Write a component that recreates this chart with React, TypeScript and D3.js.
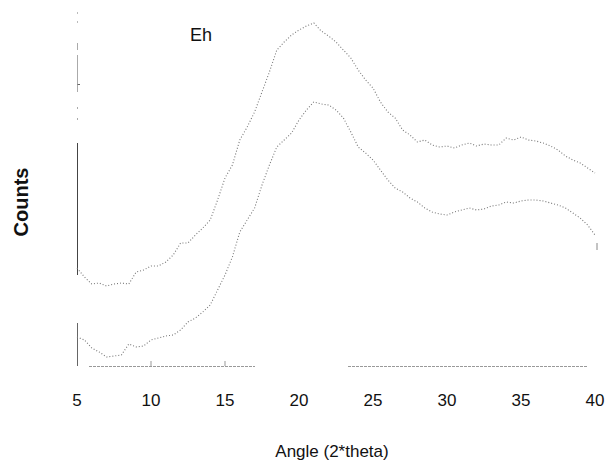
import React from "react";
import * as d3 from "d3";

// 2-theta angles (degrees), 0.5° steps
const angles: number[] = d3.range(5, 40.001, 0.5);

// Upper pattern (counts, arbitrary units)
const upperCounts: number[] = [
  970, 880, 810, 820, 790, 810, 820, 810, 930, 950,
  990, 990, 1030, 1100, 1220, 1220, 1300, 1370, 1450, 1650,
  1870, 2000, 2250, 2380, 2530, 2730, 2930, 3150, 3230, 3300,
  3350, 3390, 3420, 3340, 3290, 3230, 3150, 3070, 2950, 2850,
  2770, 2630, 2530, 2470, 2350, 2300, 2230, 2250, 2200, 2180,
  2190, 2170, 2200, 2220, 2190, 2210, 2200, 2200, 2270, 2250,
  2280, 2250, 2240, 2220, 2190, 2150, 2090, 2050, 2020, 1970, 1920,
];

// Lower pattern (counts, arbitrary units)
const lowerCounts: number[] = [
  280, 250, 170, 130, 80, 90, 100, 210, 180, 190,
  250, 270, 290, 300, 350, 430, 470, 530, 600, 750,
  900, 1080, 1330, 1450, 1570, 1800, 2000, 2180, 2250, 2320,
  2450, 2550, 2630, 2610, 2600, 2550, 2470, 2330, 2180, 2120,
  2050, 1950, 1850, 1770, 1730, 1670, 1630, 1570, 1530, 1510,
  1500, 1530, 1550, 1570, 1550, 1560, 1590, 1600, 1630, 1620,
  1640, 1650, 1650, 1640, 1620, 1600, 1570, 1520, 1470, 1400, 1300,
];

const xTicks: number[] = [5, 10, 15, 20, 25, 30, 35, 40];
const baselineTicks: number[] = [10, 15];
const xTitle = "Angle (2*theta)";
const yTitle = "Counts";
const sampleLabel = "Eh";

const FONT = "'Liberation Sans', Arial, Helvetica, sans-serif";

export default function App() {
  const W = 610;
  const H = 469;
  const x = d3.scaleLinear().domain([5, 40]).range([77, 595]);
  const y = d3.scaleLinear().domain([0, 3450]).range([365, 20]);

  const line = d3
    .line<number>()
    .x((_, i) => x(angles[i]))
    .y((d) => y(d));

  const upperPath = line(upperCounts) || "";
  const lowerPath = line(lowerCounts) || "";

  return (
    <svg
      width={W}
      height={H}
      style={{ position: "absolute", left: 0, top: 0, display: "block", background: "#fff" }}
    >
      {/* y axis (broken, scanned look) */}
      <g stroke="#555" strokeWidth={1}>
        <line x1={77.5} x2={77.5} y1={143} y2={275} stroke="#444" />
        <line x1={77.5} x2={77.5} y1={323} y2={366} stroke="#666" />
        <line x1={77.5} x2={77.5} y1={55} y2={92} stroke="#aaa" />
        <line x1={77.5} x2={77.5} y1={43} y2={50} stroke="#aaa" />
        <line x1={77.5} x2={77.5} y1={12} y2={14} stroke="#bbb" />
        <line x1={77.5} x2={77.5} y1={21} y2={23} stroke="#bbb" />
        <line x1={77.5} x2={77.5} y1={107} y2={109} stroke="#aaa" />
        <line x1={77.5} x2={77.5} y1={118} y2={120} stroke="#aaa" />
        <line x1={77.5} x2={80} y1={84.5} y2={84.5} stroke="#666" />
      </g>

      {/* x baseline (faint, dotted) */}
      <g stroke="#999" strokeWidth={1} strokeDasharray="3 1">
        <line x1={89} x2={255} y1={366.5} y2={366.5} />
        <line x1={348} x2={588} y1={366.5} y2={366.5} />
      </g>
      {baselineTicks.map((t) => (
        <line key={t} x1={x(t)} x2={x(t)} y1={361} y2={366} stroke="#999" />
      ))}

      {/* curves */}
      <path
        d={upperPath}
        fill="none"
        stroke="#777"
        strokeWidth={1.1}
        strokeDasharray="1 2"
      />
      <path
        d={lowerPath}
        fill="none"
        stroke="#777"
        strokeWidth={1.1}
        strokeDasharray="1 2"
      />
      <line
        x1={x(40) + 2}
        x2={x(40) + 2}
        y1={y(lowerCounts[lowerCounts.length - 1]) + 8}
        y2={y(lowerCounts[lowerCounts.length - 1]) + 15}
        stroke="#888"
      />

      {/* tick labels */}
      <g fontFamily={FONT} fontSize={17} fill="#111" textAnchor="middle">
        {xTicks.map((t) => (
          <text key={t} x={x(t)} y={406}>
            {t}
          </text>
        ))}
      </g>

      {/* axis titles */}
      <text x={332} y={457} fontFamily={FONT} fontSize={17} fill="#111" textAnchor="middle">
        {xTitle}
      </text>
      <text
        transform="translate(28,202) rotate(-90)"
        fontFamily={FONT}
        fontSize={20}
        fontWeight="bold"
        fill="#111"
        textAnchor="middle"
      >
        {yTitle}
      </text>

      {/* sample label */}
      <text x={190} y={41} fontFamily={FONT} fontSize={18} fill="#111">
        {sampleLabel}
      </text>
    </svg>
  );
}
